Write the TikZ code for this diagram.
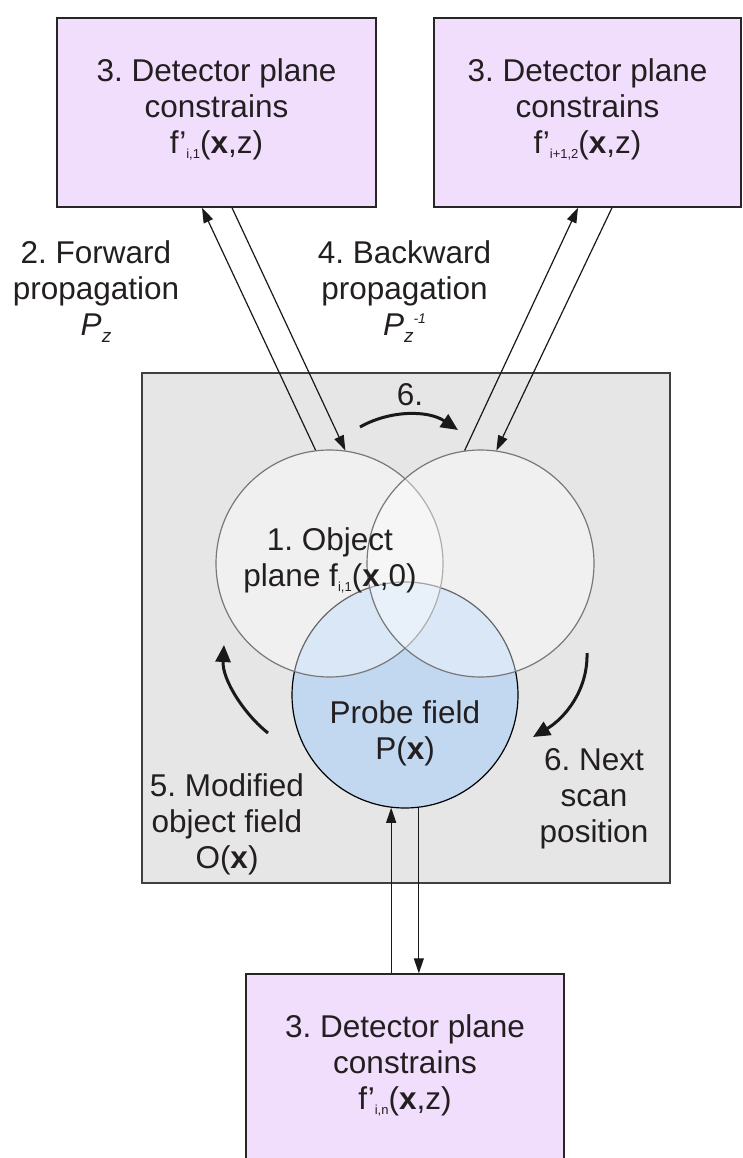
\documentclass[tikz,border=0pt]{standalone}
\usepackage{fontspec}
\setmainfont{Liberation Sans}
\usetikzlibrary{arrows.meta,calc}
\definecolor{detfill}{RGB}{241,221,252}
\definecolor{bgfill}{RGB}{230,230,230}
\definecolor{probefill}{RGB}{194,216,240}
\definecolor{circline}{RGB}{120,120,120}
\definecolor{txt}{RGB}{35,31,32}
\newcommand\mylines[1]{\begin{tabular}[t]{@{}c@{}}#1\end{tabular}}
\newcommand\tsub[1]{\raisebox{-5pt}{\fontsize{13}{13}\selectfont #1}}
\newcommand\Pz{\textit{P}\raisebox{-7pt}{\fontsize{19}{19}\selectfont\textit{z}}}
\newcommand\Pzinv{\Pz\raisebox{12pt}{\fontsize{14}{14}\selectfont\textit{-1}}}
\frenchspacing
\begin{document}
\begin{tikzpicture}[x=1pt,y=-1pt,
  detbox/.style={rectangle, draw=black!85, line width=1.5pt, fill=detfill, inner sep=0},
  bgbox/.style={rectangle, draw=black!75, line width=1.5pt, fill=bgfill, inner sep=0},
  lbl/.style={inner sep=0, anchor=base, text=txt, font=\fontsize{31.5}{36}\selectfont\frenchspacing},
  objc/.style={circle, draw=circline, line width=1.2pt, fill=white, fill opacity=0.4, minimum size=227pt, inner sep=0},
  probec/.style={circle, draw=black, line width=1.2pt, fill=probefill, minimum size=226pt, inner sep=0},
  arr/.style={line width=1.2pt, draw=black!90, -{Triangle[length=15pt,width=10pt]}},
  curv/.style={line width=3pt, draw=black!90, -{Triangle[length=17pt,width=15pt]}}
]
\useasboundingbox (0,0) rectangle (742,1158);
\clip (0,0) rectangle (742,1158);

% boxes
\node[detbox, minimum width=319pt, minimum height=189pt] (b1) at (216.5,112.5) {};
\node[detbox, minimum width=307pt, minimum height=189pt] (b2) at (587.5,112.5) {};
\node[detbox, minimum width=318pt, minimum height=196pt] (b3) at (405,1072) {};
\node[bgbox, minimum width=528pt, minimum height=510pt] (bg) at (406,628) {};

% circles
\node[probec] (pc) at (405,695) {};
\node[objc] (lc) at (329.5,563.5) {};
\node[objc] (rc) at (480.5,563.5) {};

% labels
\node[lbl] (t1) at (216.5,82) {\mylines{3. Detector plane\\constrains\\f’\tsub{i,1}(\textbf{x},z)}};
\node[lbl] (t2) at (587.5,82) {\mylines{3. Detector plane\\constrains\\f’\tsub{i+1,2}(\textbf{x},z)}};
\node[lbl] (t3) at (405,1037) {\mylines{3. Detector plane\\constrains\\f’\tsub{i,n}(\textbf{x},z)}};
\node[lbl] (fwd) at (96,263) {\mylines{2. Forward\\propagation\\\Pz}};
\node[lbl] (bwd) at (404.5,263) {\mylines{4. Backward\\propagation\\\Pzinv}};
\node[lbl] (six) at (410,405) {6.};
\node[lbl] (obj) at (330,550) {\mylines{1. Object\\plane f\tsub{i,1}(\textbf{x},0)}};
\node[lbl] (prb) at (405,723) {\mylines{Probe field\\P(\textbf{x})}};
\node[lbl] (mod) at (227,796) {\mylines{5. Modified\\object field\\O(\textbf{x})}};
\node[lbl] (nxt) at (594,770) {\mylines{6. Next\\scan\\position}};

% straight connectors
\draw[arr] (lc.97) -- ($(b1.south)+(-14.5,0)$);
\draw[arr] ($(b1.south)+(15.5,0)$) -- (lc.82);
\draw[arr] (rc.98) -- ($(b2.south)+(-9.5,0)$);
\draw[arr] ($(b2.south)+(24.5,0)$) -- (rc.82);
\draw[arr] (b3.north -| pc.263) -- (pc.263);
\draw[arr] (pc.277) -- (b3.north -| pc.277);

% curved arrows
\coordinate (s6a) at (360,427);
\coordinate (s6b) at (458,430);
\coordinate (m5a) at (268,733);
\coordinate (m5b) at (224,645);
\coordinate (n6a) at (587,653);
\coordinate (n6b) at (533,737);
\draw[curv] (s6a) .. controls (390,410) and (428,410) .. (s6b);
\draw[curv] (m5a) .. controls (245,715) and (222,680) .. (m5b);
\draw[curv] (n6a) .. controls (588,690) and (565,718) .. (n6b);
\end{tikzpicture}
\end{document}
